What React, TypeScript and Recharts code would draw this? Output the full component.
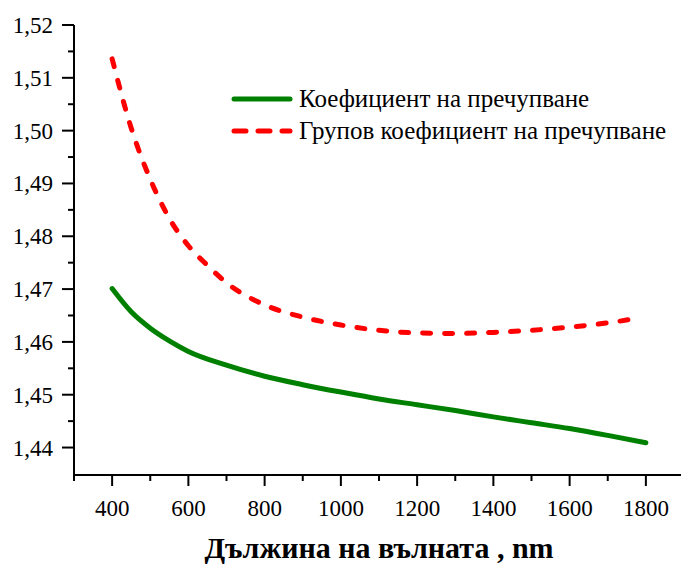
import { LineChart, Line, XAxis, YAxis } from 'recharts';

// Коефициент на пречупване (n)
const refractiveIndex = [
    { wl: 400, n: 1.4701 },
    { wl: 450, n: 1.4657 },
    { wl: 500, n: 1.4626 },
    { wl: 550, n: 1.4602 },
    { wl: 600, n: 1.4582 },
    { wl: 700, n: 1.4556 },
    { wl: 800, n: 1.4535 },
    { wl: 900, n: 1.4519 },
    { wl: 1000, n: 1.4505 },
    { wl: 1100, n: 1.4492 },
    { wl: 1200, n: 1.4481 },
    { wl: 1300, n: 1.447 },
    { wl: 1400, n: 1.4458 },
    { wl: 1500, n: 1.4447 },
    { wl: 1600, n: 1.4436 },
    { wl: 1700, n: 1.4423 },
    { wl: 1800, n: 1.4409 },
];

// Групов коефициент на пречупване (ng)
const groupIndex = [
    { wl: 400, ng: 1.5136 },
    { wl: 450, ng: 1.5005 },
    { wl: 500, ng: 1.4908 },
    { wl: 550, ng: 1.4834 },
    { wl: 600, ng: 1.4782 },
    { wl: 650, ng: 1.4745 },
    { wl: 700, ng: 1.4712 },
    { wl: 800, ng: 1.467 },
    { wl: 900, ng: 1.4647 },
    { wl: 1000, ng: 1.4632 },
    { wl: 1100, ng: 1.4622 },
    { wl: 1200, ng: 1.4617 },
    { wl: 1300, ng: 1.4616 },
    { wl: 1400, ng: 1.4618 },
    { wl: 1500, ng: 1.4622 },
    { wl: 1600, ng: 1.4628 },
    { wl: 1700, ng: 1.4636 },
    { wl: 1780, ng: 1.4645 },
];

const xTicks = [300, 400, 500, 600, 700, 800, 900, 1000, 1100, 1200, 1300, 1400, 1500, 1600, 1700, 1800, 1900];
const xLabelled = [400, 600, 800, 1000, 1200, 1400, 1600, 1800];
const yTicks = [1.44, 1.445, 1.45, 1.455, 1.46, 1.465, 1.47, 1.475, 1.48, 1.485, 1.49, 1.495, 1.5, 1.505, 1.51, 1.515, 1.52];
const yLabelled = [1.44, 1.45, 1.46, 1.47, 1.48, 1.49, 1.5, 1.51, 1.52];

const FONT = '"Liberation Serif", "Times New Roman", serif';

const XTick = (props: any) => {
    const { x, y, payload } = props;
    const major = xLabelled.includes(payload.value);
    return (
        <g>
            <line x1={x} y1={y} x2={x} y2={y + (major ? 11 : 6)} stroke="#000" strokeWidth={2} />
            {major && (
                <text x={x} y={y + 41} textAnchor="middle" fontFamily={FONT} fontSize={23} fill="#000">
                    {payload.value}
                </text>
            )}
        </g>
    );
};

const YTick = (props: any) => {
    const { x, y, payload } = props;
    const major = yLabelled.some((v) => Math.abs(v - payload.value) < 1e-6);
    return (
        <g>
            <line x1={x} y1={y} x2={x - (major ? 12 : 6)} y2={y} stroke="#000" strokeWidth={2} />
            {major && (
                <text x={x - 21} y={y + 8} textAnchor="end" fontFamily={FONT} fontSize={23} fill="#000">
                    {Number(payload.value).toFixed(2).replace('.', ',')}
                </text>
            )}
        </g>
    );
};

export default function App() {
    return (
        <div style={{ position: 'absolute', left: 0, top: 0, width: 681, height: 564, overflow: 'hidden', background: '#fff' }}>
            <LineChart width={700} height={564} margin={{ top: 25, right: 16, bottom: 0, left: 0 }}>
                <XAxis
                    type="number"
                    dataKey="wl"
                    domain={[300, 1900]}
                    ticks={xTicks}
                    tick={<XTick />}
                    tickLine={false}
                    tickSize={0}
                    tickMargin={0}
                    height={89}
                    interval={0}
                    allowDataOverflow
                    axisLine={{ stroke: '#000', strokeWidth: 2 }}
                    label={{
                        value: 'Дължина на вълната , nm',
                        position: 'insideBottom',
                        offset: 6,
                        style: { fontFamily: FONT, fontSize: 30, fontWeight: 'bold', fill: '#000' },
                    }}
                />
                <YAxis
                    type="number"
                    domain={[1.4348, 1.52]}
                    ticks={yTicks}
                    tick={<YTick />}
                    tickLine={false}
                    tickSize={0}
                    tickMargin={0}
                    width={74}
                    interval={0}
                    allowDataOverflow
                    axisLine={{ stroke: '#000', strokeWidth: 2 }}
                />
                <Line
                    data={refractiveIndex}
                    dataKey="n"
                    type="monotone"
                    stroke="#008000"
                    strokeWidth={5}
                    strokeLinecap="round"
                    dot={false}
                    isAnimationActive={false}
                />
                <Line
                    data={groupIndex}
                    dataKey="ng"
                    type="monotone"
                    stroke="#ff0000"
                    strokeWidth={5}
                    strokeLinecap="round"
                    strokeDasharray="8 14"
                    dot={false}
                    isAnimationActive={false}
                />
            </LineChart>
            <div style={{ position: 'absolute', left: 229, top: 83, fontFamily: FONT, fontSize: 25, color: '#000', lineHeight: '32px' }}>
                <div style={{ display: 'flex', alignItems: 'center' }}>
                    <svg width={66} height={10} style={{ marginRight: 4 }}>
                        <line x1={5} y1={5} x2={61} y2={5} stroke="#008000" strokeWidth={5} strokeLinecap="round" />
                    </svg>
                    <span>Коефициент на пречупване</span>
                </div>
                <div style={{ display: 'flex', alignItems: 'center' }}>
                    <svg width={66} height={10} style={{ marginRight: 4 }}>
                        <line x1={5} y1={5} x2={61} y2={5} stroke="#ff0000" strokeWidth={5} strokeLinecap="round" strokeDasharray="12 12" />
                    </svg>
                    <span>Групов коефициент на пречупване</span>
                </div>
            </div>
        </div>
    );
}
